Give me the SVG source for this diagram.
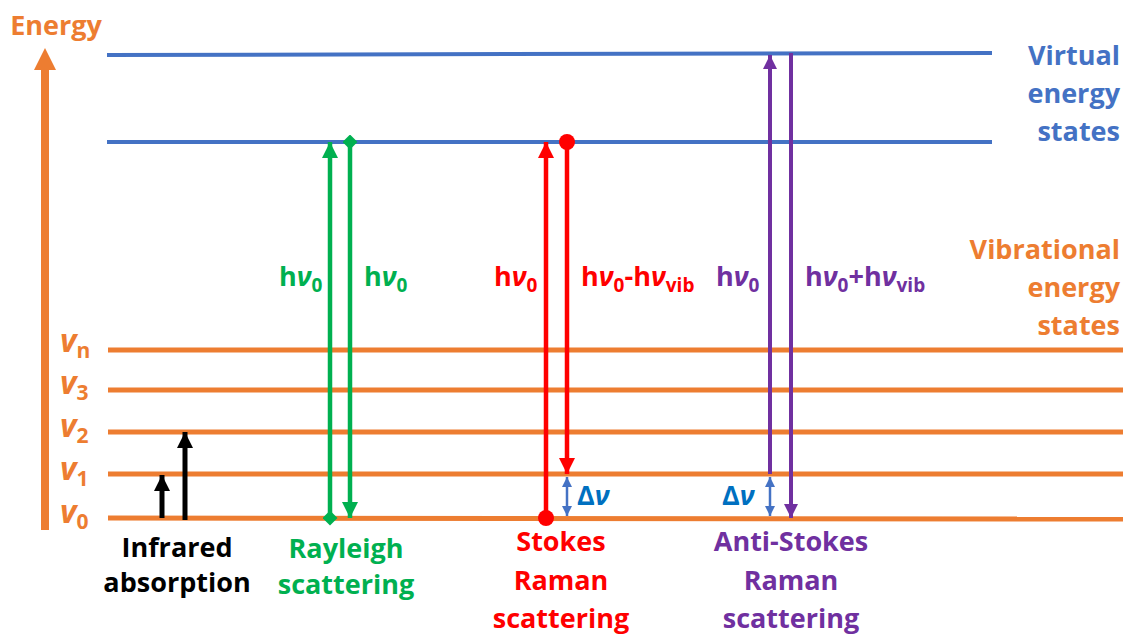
<svg xmlns="http://www.w3.org/2000/svg" width="1123" height="635" viewBox="0 0 1123 635">
  <style>
    text { font-family: "Open Sans", "Liberation Sans", sans-serif; font-weight: 700; font-size: 27px; }
    .blue { fill: #4472C4; }
    .orange { fill: #ED7D31; }
    .green { fill: #00B050; }
    .red { fill: #FF0000; }
    .purple { fill: #7030A0; }
    .black { fill: #000000; }
    .dblue { fill: #0070C0; }
    .mid { text-anchor: middle; }
    .end { text-anchor: end; }
    .sub { font-size: 19px; }
    .it { font-style: italic; }
    .lvl { font-size: 32px; }
    .lvl .sub { font-size: 21px; }
    .virt { stroke: #4472C4; stroke-width: 4; }
    .vib { stroke: #ED7D31; stroke-width: 5; }
  </style>
  <defs>
    <marker id="headBlack" viewBox="0 0 10 10" refX="10" refY="5" markerUnits="userSpaceOnUse" markerWidth="16" markerHeight="18" orient="auto">
      <path d="M0,0 L10,5 L0,10 z" fill="#000"/>
    </marker>
    <marker id="headGreen" viewBox="0 0 10 10" refX="10" refY="5" markerUnits="userSpaceOnUse" markerWidth="18" markerHeight="16" orient="auto">
      <path d="M0,0 L10,5 L0,10 z" fill="#00B050"/>
    </marker>
    <marker id="headRed" viewBox="0 0 10 10" refX="10" refY="5" markerUnits="userSpaceOnUse" markerWidth="18" markerHeight="16" orient="auto">
      <path d="M0,0 L10,5 L0,10 z" fill="#FF0000"/>
    </marker>
    <marker id="headPurple" viewBox="0 0 10 10" refX="10" refY="5" markerUnits="userSpaceOnUse" markerWidth="18" markerHeight="14" orient="auto">
      <path d="M0,0 L10,5 L0,10 z" fill="#7030A0"/>
    </marker>
    <marker id="headBlue" viewBox="0 0 10 10" refX="10" refY="5" markerUnits="userSpaceOnUse" markerWidth="12" markerHeight="10" orient="auto-start-reverse">
      <path d="M0,0 L10,5 L0,10 z" fill="#4472C4"/>
    </marker>
    <marker id="diamondGreen" viewBox="0 0 10 10" refX="5" refY="5" markerUnits="userSpaceOnUse" markerWidth="15" markerHeight="15">
      <path d="M5,0 L10,5 L5,10 L0,5 z" fill="#00B050"/>
    </marker>
    <marker id="dotRed" viewBox="0 0 10 10" refX="5" refY="5" markerUnits="userSpaceOnUse" markerWidth="16" markerHeight="16">
      <circle cx="5" cy="5" r="5" fill="#FF0000"/>
    </marker>
  </defs>

  <!-- energy axis -->
  <g id="energy-axis">
    <line x1="45" y1="530" x2="45" y2="68" stroke="#ED7D31" stroke-width="8"/>
    <path d="M34,70 L45,48 L56,70 z" fill="#ED7D31"/>
    <text x="56" y="35" class="orange mid">Energy</text>
  </g>

  <!-- virtual energy states -->
  <g id="virtual-levels">
    <line x1="107" y1="55" x2="992" y2="53" class="virt"/>
    <line x1="107" y1="142" x2="992" y2="142" class="virt"/>
    <text class="blue end"><tspan x="1120" y="65">Virtual</tspan><tspan x="1120" y="103">energy</tspan><tspan x="1120" y="141">states</tspan></text>
  </g>

  <!-- vibrational energy states -->
  <g id="vibrational-levels">
    <line x1="108" y1="350" x2="1123" y2="350" class="vib"/>
    <line x1="108" y1="390" x2="1123" y2="390" class="vib"/>
    <line x1="108" y1="432" x2="1123" y2="432" class="vib"/>
    <line x1="108" y1="474" x2="1123" y2="474" class="vib"/>
    <line x1="108" y1="518" x2="1123" y2="519" class="vib"/>
    <text class="orange end"><tspan x="1120" y="259">Vibrational</tspan><tspan x="1120" y="297">energy</tspan><tspan x="1120" y="335">states</tspan></text>
    <text x="60" y="352" class="orange lvl"><tspan class="it">v</tspan><tspan class="sub" dy="6">n</tspan></text>
    <text x="60" y="394" class="orange lvl"><tspan class="it">v</tspan><tspan class="sub" dy="6">3</tspan></text>
    <text x="60" y="437" class="orange lvl"><tspan class="it">v</tspan><tspan class="sub" dy="6">2</tspan></text>
    <text x="60" y="480" class="orange lvl"><tspan class="it">v</tspan><tspan class="sub" dy="6">1</tspan></text>
    <text x="60" y="523" class="orange lvl"><tspan class="it">v</tspan><tspan class="sub" dy="6">0</tspan></text>
  </g>

  <!-- transitions -->
  <g id="connectors">
    <line x1="162" y1="518" x2="162" y2="475" stroke="#000" stroke-width="5" marker-end="url(#headBlack)"/>
    <line x1="185" y1="520" x2="185" y2="432" stroke="#000" stroke-width="5" marker-end="url(#headBlack)"/>

    <line x1="330" y1="518" x2="330" y2="142" stroke="#00B050" stroke-width="4.5" marker-start="url(#diamondGreen)" marker-end="url(#headGreen)"/>
    <line x1="350" y1="142" x2="350" y2="518" stroke="#00B050" stroke-width="4.5" marker-start="url(#diamondGreen)" marker-end="url(#headGreen)"/>

    <line x1="546" y1="518" x2="546" y2="142" stroke="#FF0000" stroke-width="4.5" marker-start="url(#dotRed)" marker-end="url(#headRed)"/>
    <line x1="567" y1="142" x2="567" y2="474" stroke="#FF0000" stroke-width="4.5" marker-start="url(#dotRed)" marker-end="url(#headRed)"/>
    <line x1="567" y1="477" x2="567" y2="516" stroke="#4472C4" stroke-width="2.5" marker-start="url(#headBlue)" marker-end="url(#headBlue)"/>

    <line x1="770" y1="474" x2="770" y2="55" stroke="#7030A0" stroke-width="4" marker-end="url(#headPurple)"/>
    <line x1="791" y1="53" x2="791" y2="518" stroke="#7030A0" stroke-width="4" marker-end="url(#headPurple)"/>
    <line x1="770" y1="477" x2="770" y2="516" stroke="#4472C4" stroke-width="2.5" marker-start="url(#headBlue)" marker-end="url(#headBlue)"/>
  </g>

  <!-- infrared absorption -->
  <g id="infrared">
    <text class="black mid"><tspan x="177" y="557">Infrared</tspan><tspan x="177" y="592">absorption</tspan></text>
  </g>

  <!-- Rayleigh scattering -->
  <g id="rayleigh">
    <text x="279" y="286" class="green">h<tspan class="it">ν</tspan><tspan class="sub" dy="6">0</tspan></text>
    <text x="364" y="286" class="green">h<tspan class="it">ν</tspan><tspan class="sub" dy="6">0</tspan></text>
    <text class="green mid"><tspan x="346" y="558">Rayleigh</tspan><tspan x="346" y="594">scattering</tspan></text>
  </g>

  <!-- Stokes Raman scattering -->
  <g id="stokes">
    <text x="494" y="286" class="red">h<tspan class="it">ν</tspan><tspan class="sub" dy="6">0</tspan></text>
    <text x="581" y="286" class="red">h<tspan class="it">ν</tspan><tspan class="sub" dy="6">0</tspan><tspan dy="-6">-h</tspan><tspan class="it">ν</tspan><tspan class="sub" dy="6">vib</tspan></text>
    <text x="577" y="505" class="dblue">Δ<tspan class="it">ν</tspan></text>
    <text class="red mid"><tspan x="561" y="551">Stokes</tspan><tspan x="561" y="590">Raman</tspan><tspan x="561" y="628">scattering</tspan></text>
  </g>

  <!-- Anti-Stokes Raman scattering -->
  <g id="anti-stokes">
    <text x="716" y="286" class="purple">h<tspan class="it">ν</tspan><tspan class="sub" dy="6">0</tspan></text>
    <text x="805" y="286" class="purple">h<tspan class="it">ν</tspan><tspan class="sub" dy="6">0</tspan><tspan dy="-6">+h</tspan><tspan class="it">ν</tspan><tspan class="sub" dy="6">vib</tspan></text>
    <text x="722" y="505" class="dblue">Δ<tspan class="it">ν</tspan></text>
    <text class="purple mid"><tspan x="791" y="551">Anti-Stokes</tspan><tspan x="791" y="590">Raman</tspan><tspan x="791" y="628">scattering</tspan></text>
  </g>
</svg>
